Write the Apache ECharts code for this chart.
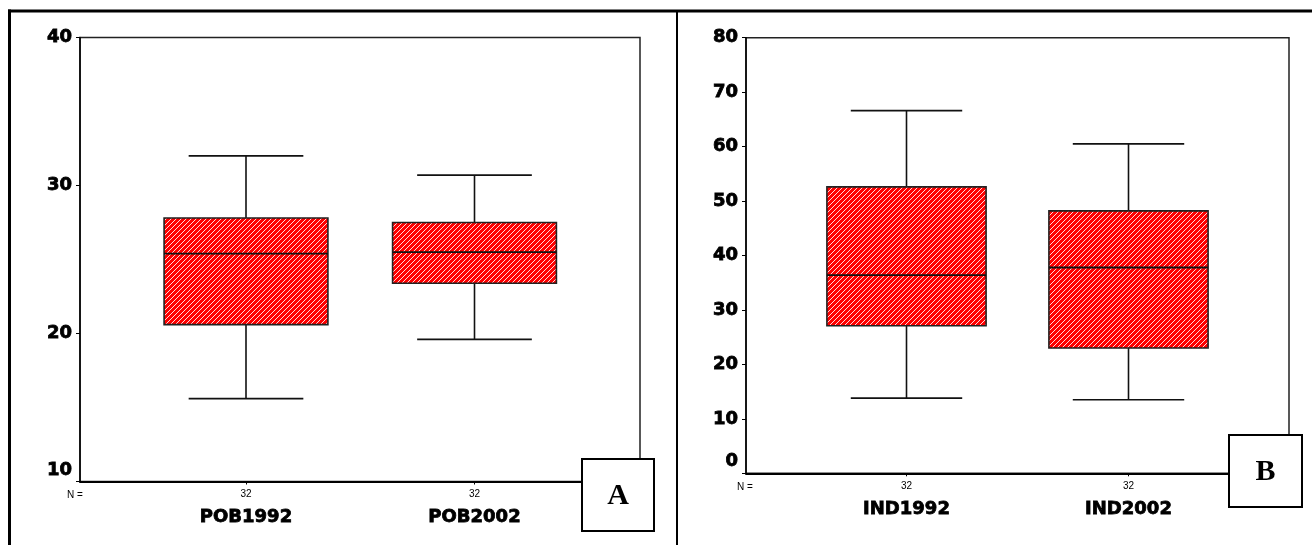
<!DOCTYPE html>
<html>
<head>
<meta charset="utf-8">
<script src="https://cdn.jsdelivr.net/npm/echarts@6/dist/echarts.min.js"></script>
<style>
html,body{margin:0;padding:0;background:#fff;}
#chart{width:1312px;height:545px;}
</style>
</head>
<body>
<div id="chart"></div>
<script>
// ---- data ----
const popCategories = ['POB1992', 'POB2002'];
const popMin    = [15.6, 19.6];
const popQ1     = [20.6, 23.4];
const popMedian = [25.4, 25.5];
const popQ3     = [27.8, 27.5];
const popMax    = [32.0, 30.7];
const popN      = [32, 32];

const indCategories = ['IND1992', 'IND2002'];
const indMin    = [13.8, 13.5];
const indQ1     = [27.1, 23.0];
const indMedian = [36.4, 37.8];
const indQ3     = [52.6, 48.2];
const indMax    = [66.6, 60.5];
const indN      = [32, 32];

const popTicks = { min: 10, max: 40, interval: 10 };
const indTicks = { min: 0, max: 80, interval: 10 };

// ---- hatch pattern ----
const tile = document.createElement('canvas');
tile.width = 5; tile.height = 5;
(function () {
  const c = tile.getContext('2d');
  c.fillStyle = '#ff0000';
  c.fillRect(0, 0, 5, 5);
  c.strokeStyle = 'rgba(255,255,255,0.85)';
  c.lineWidth = 1;
  c.beginPath();
  c.moveTo(-1, 6); c.lineTo(6, -1);
  c.moveTo(-1, 1); c.lineTo(1, -1);
  c.moveTo(4, 6); c.lineTo(6, 4);
  c.stroke();
})();
const hatch = { image: tile, repeat: 'repeat' };

function buildData(mins, q1, med, q3, maxs) {
  return mins.map((v, i) => [i, mins[i], q1[i], med[i], q3[i], maxs[i]]);
}

function renderBox(params, api) {
  const xi = api.value(0);
  const lo = api.coord([xi, api.value(1)]);
  const b1 = api.coord([xi, api.value(2)]);
  const md = api.coord([xi, api.value(3)]);
  const b3 = api.coord([xi, api.value(4)]);
  const hi = api.coord([xi, api.value(5)]);
  const band = api.size([1, 0])[0];
  const bw = band * 0.717;
  const cw = bw * 0.7;
  const cx = b1[0];
  const ls = { stroke: '#111', lineWidth: 1.6 };
  return {
    type: 'group',
    children: [
      { type: 'line', shape: { x1: cx, y1: b3[1], x2: cx, y2: hi[1] }, style: ls },
      { type: 'line', shape: { x1: cx - cw / 2, y1: hi[1], x2: cx + cw / 2, y2: hi[1] }, style: ls },
      { type: 'line', shape: { x1: cx, y1: b1[1], x2: cx, y2: lo[1] }, style: ls },
      { type: 'line', shape: { x1: cx - cw / 2, y1: lo[1], x2: cx + cw / 2, y2: lo[1] }, style: ls },
      { type: 'rect', shape: { x: cx - bw / 2, y: b3[1], width: bw, height: b1[1] - b3[1] },
        style: { fill: hatch, stroke: '#222', lineWidth: 1.6 } },
      { type: 'line', shape: { x1: cx - bw / 2, y1: md[1], x2: cx + bw / 2, y2: md[1] },
        style: { stroke: '#111', lineWidth: 1.8 } }
    ]
  };
}

const boldFont = 'DejaVu Sans';
const smallFont = 'Liberation Sans';
const heavy = { fontFamily: boldFont, fontWeight: 'bold', fontSize: 18, color: '#000', textBorderColor: '#000', textBorderWidth: 0.8 };

function frameY(t, gi) {
  return {
    type: 'value', gridIndex: gi, min: t.min, max: t.max, interval: t.interval,
    axisLine: { show: true, lineStyle: { color: '#000', width: 1.5 } },
    axisTick: { show: true, length: 4, lineStyle: { color: '#000', width: 1 } },
    splitLine: { show: false },
    axisLabel: {
      color: '#000', margin: 8,
      formatter: v => v === t.min ? '{low|' + v + '}' : '{n|' + v + '}',
      rich: {
        n: Object.assign({}, heavy),
        low: Object.assign({}, heavy, { padding: [0, 0, 23, 0] })
      }
    }
  };
}
function frameX(gi) {
  return {
    type: 'value', gridIndex: gi, min: 0, max: 1,
    axisLine: { show: true, onZero: false, lineStyle: { color: '#000', width: 2 } },
    axisTick: { show: false }, axisLabel: { show: false }, splitLine: { show: false }
  };
}
function dataX(cats, counts, gi) {
  return {
    type: 'category', gridIndex: gi, data: cats, boundaryGap: true,
    axisLine: { show: false },
    axisTick: { show: true, alignWithLabel: true, length: 3, lineStyle: { color: '#000' } },
    axisLabel: {
      margin: 6, interval: 0,
      formatter: (v, i) => '{n|' + counts[i] + '}\n{c|' + v + '}',
      rich: {
        n: { fontFamily: smallFont, fontSize: 10, lineHeight: 14, color: '#000' },
        c: Object.assign({}, heavy, { lineHeight: 32 })
      }
    }
  };
}
function dataY(t, gi) {
  return { type: 'value', gridIndex: gi, min: t.min, max: t.max, show: false, splitLine: { show: false } };
}

const chart = echarts.init(document.getElementById('chart'), null, { renderer: 'canvas' });
chart.setOption({
  backgroundColor: '#fff',
  animation: false,
  grid: [
    { left: 80, top: 37.5, width: 560, height: 444, show: true, borderColor: '#222', borderWidth: 1.5 },
    { left: 131.75, top: 37.5, width: 457, height: 444 },
    { left: 746, top: 37.7, width: 543, height: 435.6, show: true, borderColor: '#222', borderWidth: 1.5 },
    { left: 795.5, top: 37.7, width: 444, height: 435.6 }
  ],
  xAxis: [frameX(0), dataX(popCategories, popN, 1), frameX(2), dataX(indCategories, indN, 3)],
  yAxis: [frameY(popTicks, 0), dataY(popTicks, 1), frameY(indTicks, 2), dataY(indTicks, 3)],
  series: [
    { type: 'custom', xAxisIndex: 1, yAxisIndex: 1, renderItem: renderBox,
      encode: { x: 0, y: [1, 2, 3, 4, 5] },
      data: buildData(popMin, popQ1, popMedian, popQ3, popMax) },
    { type: 'custom', xAxisIndex: 3, yAxisIndex: 3, renderItem: renderBox,
      encode: { x: 0, y: [1, 2, 3, 4, 5] },
      data: buildData(indMin, indQ1, indMedian, indQ3, indMax) }
  ],
  graphic: [
    { type: 'line', shape: { x1: 9.5, y1: 9.5, x2: 9.5, y2: 545 }, style: { stroke: '#000', lineWidth: 3 } },
    { type: 'line', shape: { x1: 8, y1: 11, x2: 1312, y2: 11 }, style: { stroke: '#000', lineWidth: 3 } },
    { type: 'line', shape: { x1: 677, y1: 10, x2: 677, y2: 545 }, style: { stroke: '#000', lineWidth: 2 } },
    { type: 'text', x: 67, y: 495, style: { text: 'N =', font: '10px "Liberation Sans"', fill: '#000', verticalAlign: 'middle' } },
    { type: 'text', x: 737, y: 487, style: { text: 'N =', font: '10px "Liberation Sans"', fill: '#000', verticalAlign: 'middle' } },
    { type: 'rect', shape: { x: 582, y: 459, width: 72, height: 72 }, style: { fill: '#fff', stroke: '#000', lineWidth: 2 }, z: 100 },
    { type: 'text', x: 618, y: 496, style: { text: 'A', font: 'bold 30px "Liberation Serif"', fill: '#000', align: 'center', verticalAlign: 'middle' }, z: 101 },
    { type: 'rect', shape: { x: 1229, y: 435, width: 73, height: 72 }, style: { fill: '#fff', stroke: '#000', lineWidth: 2 }, z: 100 },
    { type: 'text', x: 1265.5, y: 472, style: { text: 'B', font: 'bold 30px "Liberation Serif"', fill: '#000', align: 'center', verticalAlign: 'middle' }, z: 101 }
  ]
});
</script>
</body>
</html>
